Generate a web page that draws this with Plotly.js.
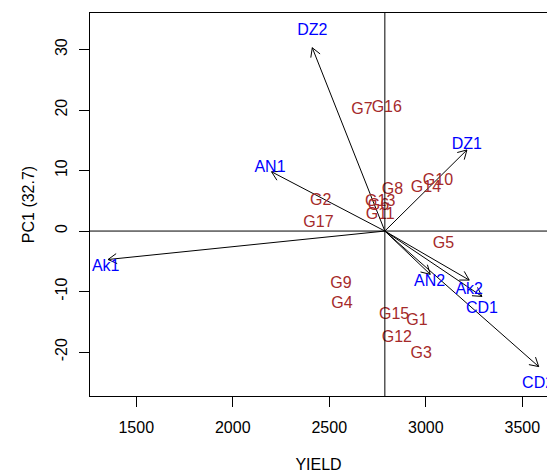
<!DOCTYPE html>
<html>
<head>
<meta charset="utf-8">
<script src="https://cdn.plot.ly/plotly-3.0.1.min.js"></script>
<style>html,body{margin:0;padding:0;background:#fff;}#chart{width:547px;height:473px;}</style>
</head>
<body>
<div id="chart"></div>
<script>
// ---- data ----
var originYield = 2788;
var originPC = 0;

var envNames = ["DZ2", "DZ1", "AN1", "Ak1", "AN2", "Ak2", "CD1", "CD2"];
var envTipX  = [2412, 3213, 2201, 1354, 3023, 3225, 3291, 3585];
var envTipY  = [30.3, 13.4, 9.8, -4.7, -7.15, -8.1, -10.8, -22.4];
var envLabelX = [2412, 3213, 2193, 1342, 3020, 3225, 3291, 3582];
var envLabelY = [33.1, 14.3, 10.4, -5.9, -8.45, -9.7, -12.8, -25.3];

var genNames = ["G1","G2","G3","G4","G5","G6","G7","G8","G9","G10","G11","G12","G13","G14","G15","G16","G17"];
var genX = [2954, 2456, 2976, 2566, 3092, 2755, 2669, 2827, 2561, 3063, 2764, 2850, 2764, 3001, 2836, 2798, 2444];
var genY = [-14.8, 5.0, -20.3, -12.1, -2.2, 4.2, 20.0, 6.8, -8.8, 8.2, 2.7, -17.6, 4.75, 7.1, -13.9, 20.4, 1.3];

var xTicks = [1500, 2000, 2500, 3000, 3500];
var yTicks = [-20, -10, 0, 10, 20, 30];

// ---- layout constants ----
var W = 547, H = 473;
var margin = {l: 90, r: 0, t: 13, b: 77};
var xRange = [1260.5, 3628];
var yRange = [-27.26, 36.04];
var plotW = W - margin.l - margin.r;
var plotH = H - margin.t - margin.b;
var pxX = plotW / (xRange[1] - xRange[0]);
var pxY = plotH / (yRange[1] - yRange[0]);

// arrows (shaft + open head) built from the data
var ax = [], ay = [];
var headLen = 10, headAng = Math.PI / 6;
for (var i = 0; i < envNames.length; i++) {
  var tx = envTipX[i], ty = envTipY[i];
  ax.push(originYield, tx, null);
  ay.push(originPC, ty, null);
  var dx = (tx - originYield) * pxX, dy = (ty - originPC) * pxY;
  var th = Math.atan2(dy, dx);
  [th + headAng, th - headAng].forEach(function (a) {
    ax.push(tx, tx - headLen * Math.cos(a) / pxX, null);
    ay.push(ty, ty - headLen * Math.sin(a) / pxY, null);
  });
}

var fontFam = "Liberation Sans, Arial, Helvetica, sans-serif";

var traces = [
  {
    x: ax, y: ay, mode: "lines", type: "scatter",
    line: {color: "#000", width: 1}, hoverinfo: "skip", showlegend: false
  },
  {
    x: genX, y: genY, text: genNames, mode: "text", type: "scatter",
    textposition: "middle center",
    textfont: {family: fontFam, size: 16, color: "#A52A2A"},
    showlegend: false, cliponaxis: false
  },
  {
    x: envLabelX, y: envLabelY, text: envNames, mode: "text", type: "scatter",
    textposition: "middle center",
    textfont: {family: fontFam, size: 16, color: "#0000FF"},
    showlegend: false, cliponaxis: false
  }
];

var layout = {
  width: W, height: H,
  margin: margin,
  paper_bgcolor: "#fff", plot_bgcolor: "#fff",
  showlegend: false,
  font: {family: fontFam, size: 16, color: "#000"},
  xaxis: {
    range: xRange, tickmode: "array", tickvals: xTicks, ticktext: xTicks.map(String),
    showgrid: false, zeroline: false, showline: true, mirror: true,
    linecolor: "#000", linewidth: 1,
    ticks: "outside", ticklen: 10, tickcolor: "#000", tickwidth: 1,
    ticklabelstandoff: 7,
    tickfont: {family: fontFam, size: 16, color: "#000"},
    title: {text: "YIELD", font: {family: fontFam, size: 16, color: "#000"}, standoff: 24},
    automargin: false, fixedrange: true
  },
  yaxis: {
    range: yRange, tickmode: "array", tickvals: yTicks, ticktext: yTicks.map(String),
    tickangle: -90,
    showgrid: false, zeroline: false, showline: true, mirror: false,
    linecolor: "#000", linewidth: 1,
    ticks: "outside", ticklen: 10, tickcolor: "#000", tickwidth: 1,
    ticklabelstandoff: 6,
    tickfont: {family: fontFam, size: 16, color: "#000"},
    title: {text: "PC1 (32.7)", font: {family: fontFam, size: 16, color: "#000"}, standoff: 13},
    automargin: false, fixedrange: true
  },
  shapes: [
    {type: "line", xref: "paper", yref: "y", x0: 0, x1: 1, y0: originPC, y1: originPC,
     line: {color: "#000", width: 1}},
    {type: "line", xref: "x", yref: "paper", x0: originYield, x1: originYield, y0: 0, y1: 1,
     line: {color: "#000", width: 1}}
  ]
};

Plotly.newPlot("chart", traces, layout, {displayModeBar: false, staticPlot: true});
</script>
</body>
</html>
